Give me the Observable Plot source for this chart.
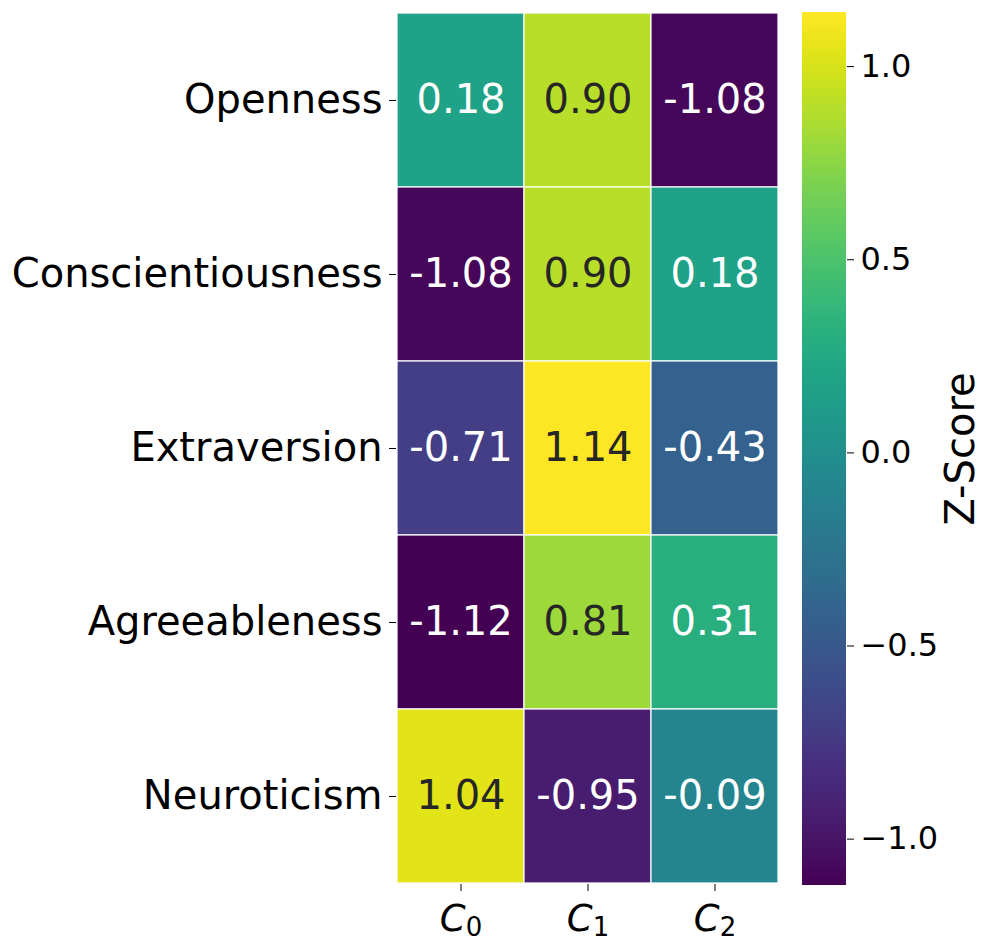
<!DOCTYPE html>
<html>
<head>
<meta charset="utf-8">
<script src="https://cdn.jsdelivr.net/npm/d3@7"></script>
<script src="https://cdn.jsdelivr.net/npm/@observablehq/plot@0.6"></script>
<style>
  html, body { margin: 0; padding: 0; background: #fff; }
  #wrap { display: flex; width: 996px; height: 948px; }
  svg { display: block; }
</style>
</head>
<body>
<div id="wrap"></div>
<script>
// ---- data ----
const traits = ["Openness", "Conscientiousness", "Extraversion", "Agreeableness", "Neuroticism"];
const clusters = ["C0", "C1", "C2"];
const valuesC0 = [0.18, -1.08, -0.71, -1.12, 1.04];
const valuesC1 = [0.90, 0.90, 1.14, 0.81, -0.95];
const valuesC2 = [-1.08, 0.18, -0.43, 0.31, -0.09];
const colorbarTicks = [-1.0, -0.5, 0.0, 0.5, 1.0];
const colorbarLabel = "Z-Score";

const series = [valuesC0, valuesC1, valuesC2];
const table = [];
clusters.forEach((c, ci) => traits.forEach((t, ti) => table.push({cluster: c, trait: t, value: series[ci][ti]})));
const domain = d3.extent(table, d => d.value);

const colorScale = d3.scaleSequential(d3.interpolateViridis).domain(domain);
function textColor(v) {
  const c = d3.rgb(colorScale(v));
  const lin = x => { x /= 255; return x <= 0.03928 ? x / 12.92 : Math.pow((x + 0.055) / 1.055, 2.4); };
  const lum = 0.2126 * lin(c.r) + 0.7152 * lin(c.g) + 0.0722 * lin(c.b);
  return lum > 0.408 ? "#262626" : "#ffffff";
}

const font = "DejaVu Sans, sans-serif";

const main = Plot.plot({
  width: 800,
  height: 948,
  marginLeft: 396,
  marginRight: 22,
  marginTop: 12,
  marginBottom: 64,
  style: {fontFamily: font, background: "white", color: "black"},
  x: {domain: clusters, padding: 0, label: null},
  y: {domain: traits, padding: 0, label: null},
  color: {type: "linear", scheme: "viridis", domain},
  marks: [
    Plot.cell(table, {x: "cluster", y: "trait", fill: "value", stroke: "white", strokeWidth: 1.2, inset: 0}),
    Plot.text(table, {x: "cluster", y: "trait", text: d => d.value.toFixed(2), fill: d => textColor(d.value), fontSize: 40}),
    Plot.axisY({tickSize: 7, tickPadding: 7, fontSize: 40, label: null}),
    Plot.axisX({tickSize: 7, tickPadding: 13, fontSize: 37, label: null})
  ]
});

// subscripted x tick labels (C with subscript index, math style)
d3.select(main).selectAll('g[aria-label="x-axis tick label"] text').each(function() {
  const s = this.textContent;
  const el = d3.select(this);
  el.text(null);
  el.append("tspan").attr("font-style", "italic").text(s[0]);
  el.append("tspan").attr("font-size", 26).attr("dy", 5).text(s.slice(1));
});

const cb = Plot.plot({
  width: 196,
  height: 948,
  marginLeft: 2,
  marginRight: 150,
  marginTop: 12,
  marginBottom: 63,
  style: {fontFamily: font, background: "white", color: "black"},
  y: {domain, label: null},
  marks: [
    Plot.rect([{lo: domain[0], hi: domain[1]}], {y1: "lo", y2: "hi", fill: "url(#cbgrad)"}),
    Plot.axisY({anchor: "right", ticks: colorbarTicks, tickFormat: d3.format(".1f"), tickSize: 7, tickPadding: 7, fontSize: 32, label: null}),
    Plot.text([colorbarLabel], {frameAnchor: "right", textAnchor: "middle", lineAnchor: "middle", dx: 115, rotate: -90, fontSize: 40, fill: "black"})
  ]
});
const defs = d3.select(cb).insert("defs", ":first-child");
const grad = defs.append("linearGradient").attr("id", "cbgrad")
  .attr("x1", 0).attr("y1", 1).attr("x2", 0).attr("y2", 0);
d3.range(0, 1.0001, 0.02).forEach(t => grad.append("stop").attr("offset", t).attr("stop-color", d3.interpolateViridis(t)));

document.getElementById("wrap").append(main, cb);
</script>
</body>
</html>
